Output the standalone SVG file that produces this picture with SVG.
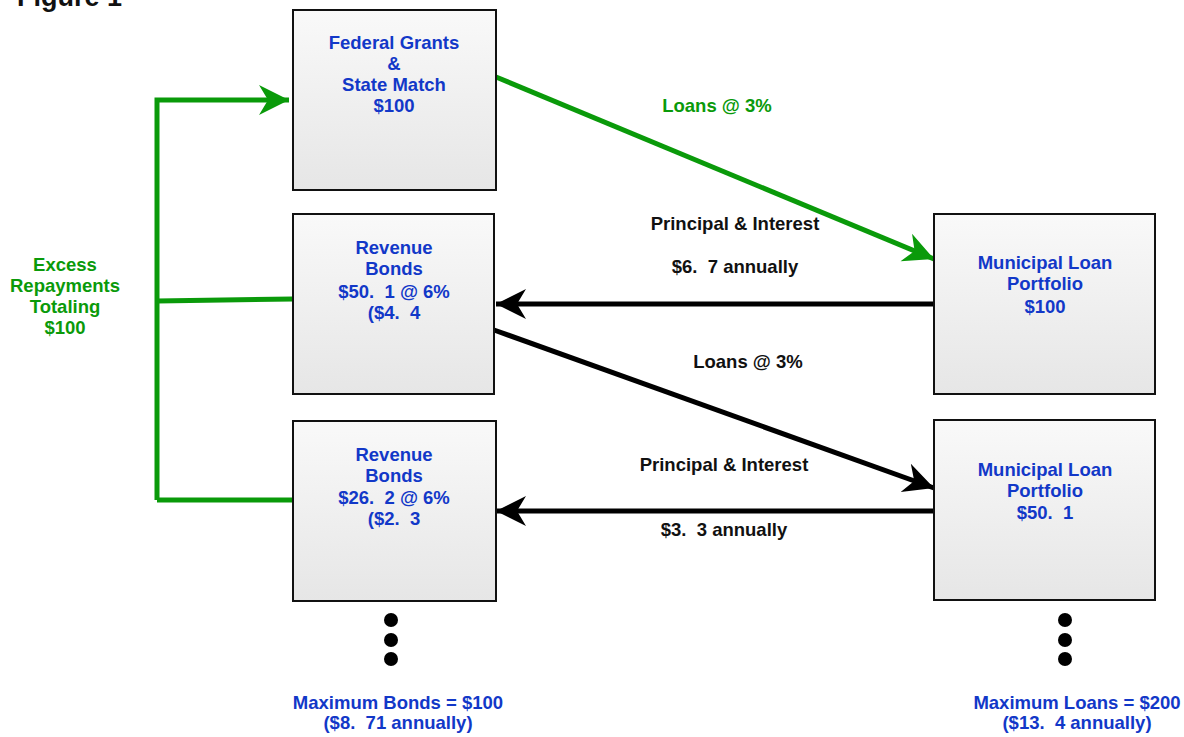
<svg xmlns="http://www.w3.org/2000/svg" width="1184" height="737" viewBox="0 0 1184 737">
  <defs>
    <linearGradient id="boxFill" x1="0" y1="0" x2="0" y2="1">
      <stop offset="0" stop-color="#f9f9f9"/>
      <stop offset="1" stop-color="#e6e6e6"/>
    </linearGradient>
    <marker id="arrowGreen" markerUnits="userSpaceOnUse" markerWidth="34" markerHeight="34" viewBox="-32 -17 34 34" refX="0" refY="0" orient="auto">
      <path d="M0,0 L-30,-15 L-21,0 L-30,15 Z" fill="#0a9a0a"/>
    </marker>
    <marker id="arrowBlack" markerUnits="userSpaceOnUse" markerWidth="34" markerHeight="34" viewBox="-32 -17 34 34" refX="0" refY="0" orient="auto">
      <path d="M0,0 L-30,-15 L-21,0 L-30,15 Z" fill="#000"/>
    </marker>
  </defs>
  <style>
    text { white-space: pre; font-family: "Liberation Sans", Arial, sans-serif; font-weight: bold; font-size: 18.5px; text-anchor: middle; }
    .title { font-size: 27px; text-anchor: start; fill: #111; }
    .box { fill: url(#boxFill); stroke: #111; stroke-width: 2; }
    .node { fill: #1238c8; }
    .lbl { fill: #111; }
    .glbl { fill: #0a9a0a; }
    .gline { fill: none; stroke: #0a9a0a; stroke-width: 5; }
    .bline { fill: none; stroke: #000; stroke-width: 5; }
    .dot { fill: #000; }
  </style>

  <rect width="1184" height="737" fill="#fff"/>

  <!-- title, partly above the page edge -->
  <text class="title" x="17" y="6">Figure 1</text>

  <!-- connectors -->
  <g id="connectors">
    <!-- excess repayments loop back to the grant pool -->
    <polyline class="gline" points="157,500 157,100 289,100" marker-end="url(#arrowGreen)"/>
    <line class="gline" x1="157" y1="301" x2="293" y2="299"/>
    <line class="gline" x1="157" y1="500" x2="293" y2="500"/>
    <!-- federal grants to portfolio -->
    <line class="gline" x1="496" y1="77" x2="934" y2="259" marker-end="url(#arrowGreen)"/>
    <!-- repayments back to bonds, and second round of loans -->
    <line class="bline" x1="934" y1="304" x2="496" y2="304" marker-end="url(#arrowBlack)"/>
    <line class="bline" x1="494" y1="330" x2="934" y2="488" marker-end="url(#arrowBlack)"/>
    <line class="bline" x1="934" y1="511" x2="496" y2="511" marker-end="url(#arrowBlack)"/>
  </g>

  <!-- connector labels -->
  <g id="labels">
    <text class="glbl" x="717" y="112">Loans @ 3%</text>
    <text class="lbl" x="735" y="230">Principal &amp; Interest</text>
    <text class="lbl" x="735" y="273">$6.  7 annually</text>
    <text class="lbl" x="748" y="368">Loans @ 3%</text>
    <text class="lbl" x="724" y="471">Principal &amp; Interest</text>
    <text class="lbl" x="724" y="536">$3.  3 annually</text>
  </g>

  <g id="excess">
    <text class="glbl" x="65" y="271">Excess</text>
    <text class="glbl" x="65" y="292">Repayments</text>
    <text class="glbl" x="65" y="313">Totaling</text>
    <text class="glbl" x="65" y="334">$100</text>
  </g>

  <g id="federal-grants">
    <rect class="box" x="293" y="10" width="203" height="180"/>
    <text class="node" x="394" y="49">Federal Grants</text>
    <text class="node" x="394" y="70">&amp;</text>
    <text class="node" x="394" y="91">State Match</text>
    <text class="node" x="394" y="112">$100</text>
  </g>

  <g id="revenue-bonds-1">
    <rect class="box" x="293" y="214" width="201" height="180"/>
    <text class="node" x="394" y="254">Revenue</text>
    <text class="node" x="394" y="275">Bonds</text>
    <text class="node" x="394" y="298">$50.  1 @ 6%</text>
    <text class="node" x="394" y="319">($4.  4</text>
  </g>

  <g id="revenue-bonds-2">
    <rect class="box" x="293" y="421" width="203" height="180"/>
    <text class="node" x="394" y="461">Revenue</text>
    <text class="node" x="394" y="482">Bonds</text>
    <text class="node" x="394" y="504">$26.  2 @ 6%</text>
    <text class="node" x="394" y="525">($2.  3</text>
  </g>

  <g id="municipal-loan-1">
    <rect class="box" x="934" y="214" width="221" height="180"/>
    <text class="node" x="1045" y="269">Municipal Loan</text>
    <text class="node" x="1045" y="290">Portfolio</text>
    <text class="node" x="1045" y="313">$100</text>
  </g>

  <g id="municipal-loan-2">
    <rect class="box" x="934" y="420" width="221" height="180"/>
    <text class="node" x="1045" y="476">Municipal Loan</text>
    <text class="node" x="1045" y="497">Portfolio</text>
    <text class="node" x="1045" y="519">$50.  1</text>
  </g>

  <g id="continuation-bonds">
    <circle class="dot" cx="391" cy="620" r="7"/>
    <circle class="dot" cx="391" cy="640" r="7"/>
    <circle class="dot" cx="391" cy="659" r="7"/>
  </g>
  <g id="continuation-loans">
    <circle class="dot" cx="1065" cy="620" r="7"/>
    <circle class="dot" cx="1065" cy="640" r="7"/>
    <circle class="dot" cx="1065" cy="659" r="7"/>
  </g>

  <g id="totals">
    <text class="node" x="398" y="709">Maximum Bonds = $100</text>
    <text class="node" x="398" y="729">($8.  71 annually)</text>
    <text class="node" x="1077" y="709">Maximum Loans = $200</text>
    <text class="node" x="1077" y="729">($13.  4 annually)</text>
  </g>
</svg>
